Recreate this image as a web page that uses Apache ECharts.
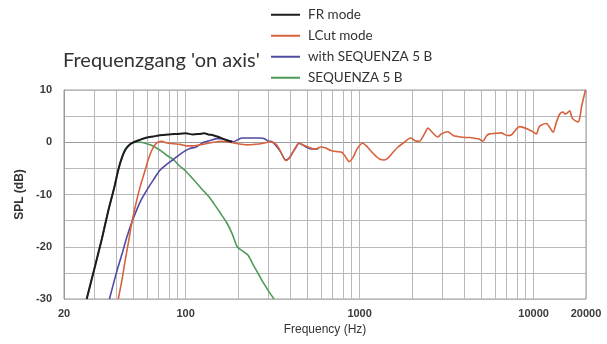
<!DOCTYPE html>
<html>
<head>
<meta charset="utf-8">
<script src="https://cdn.jsdelivr.net/npm/echarts@6/dist/echarts.min.js"></script>
<style>
  html, body { margin: 0; padding: 0; background: #ffffff; }
  #chart { width: 607px; height: 344px; }
</style>
</head>
<body>
<div id="chart"></div>
<script>
// ---- Data (frequency Hz, SPL dB) ----
const titleText = "Frequenzgang 'on axis'";
const seriesNames = ['FR mode', 'LCut mode', 'with SEQUENZA 5 B', 'SEQUENZA 5 B'];
const seriesColors = ['#1c1c1c', '#d8623e', '#4f4aa3', '#4e9a58'];

const frMode = [
  [27,-30],[30,-24],[33,-18.5],[36,-13],[39,-8.5],[41,-5.3],[43,-3],[45,-1.5],[48,-0.4],
  [51,0.1],[55,0.5],[60,0.9],[65,1.1],[70,1.3],[75,1.4],[80,1.5],[90,1.6],[100,1.7],
  [110,1.5],[120,1.6],[128,1.7],[135,1.5],[145,1.3],[155,1.0],[165,0.6],[175,0.3],[185,0.1]
];

const lcutMode = [
  [41,-30],[43,-26.5],[45,-22.5],[47,-19],[49.2,-15.2],[52,-11.5],[55,-8.3],[58.6,-5.3],
  [61,-3.3],[64,-1.5],[67,-0.4],[70,0.1],[73,0.2],[77,-0.1],[85,-0.3],[93,-0.4],[102,-0.7],
  [111,-0.7],[125,-0.4],[140,-0.1],[160,0.2],[180,0],[200,-0.3],[226,-0.5],[250,-0.4],
  [270,-0.3],[308,0.1],[335,-0.6],[360,-2.5],[376,-3.5],[395,-3.0],[420,-1.5],[448,-0.2],
  [480,-0.6],[533,-1.2],[560,-1.3],[598,-0.9],[640,-1.1],[683,-1.6],[740,-1.8],[790,-1.9],
  [830,-2.8],[870,-3.7],[920,-2.8],[970,-1.2],[1040,-0.2],[1100,-0.8],[1200,-2.2],[1300,-3.2],
  [1385,-3.4],[1460,-3.0],[1548,-2.0],[1650,-1.0],[1806,0.0],[1900,0.6],[1974,0.8],[2080,0.3],
  [2205,0.2],[2350,1.5],[2470,2.7],[2600,2.0],[2813,1.0],[2950,1.6],[3214,2.0],[3450,1.3],
  [3667,1.1],[4000,0.9],[4300,0.9],[4571,0.75],[4850,0.6],[5107,0.2],[5350,1.2],[5579,1.6],
  [6000,1.7],[6517,1.8],[7000,1.3],[7448,1.4],[7900,2.4],[8306,3.0],[8800,2.8],[9283,2.5],
  [9800,2.1],[10370,1.6],[10700,2.8],[11080,3.3],[11840,3.6],[12400,2.8],[12940,1.9],
  [13500,3.8],[14130,5.4],[14780,5.8],[15100,5.4],[15440,5.5],[16140,6.0],[16500,5.0],
  [16880,4.4],[18040,3.9],[18500,5.0],[18850,6.8],[19870,10]
];

const withSequenza = [
  [36.5,-30],[40,-25],[43,-21.5],[46,-18.1],[49.2,-15.2],[53,-12.5],[56,-10.8],[60,-9.1],
  [65,-7.3],[71,-5.4],[78,-4.2],[85,-3.3],[92,-2.4],[100,-1.6],[106,-1.2],[115,-0.9],
  [127,0],[140,0.4],[151,0.7],[160,0.7],[175,0.4],[189,0.1],[200,0.5],[211,0.8],[240,0.8],
  [269,0.8],[282,0.7],[300,0.2],[314,0.1],[330,-0.6],[351,-1.8],[376,-3.4],[395,-3.0],
  [410,-2.1],[430,-1.0],[448,-0.2],[470,-0.5],[492,-0.9],[533,-1.3],[560,-1.3],[580,-1.2]
];

const sequenza = [
  [27,-30],[30,-24],[33,-18.5],[36,-13],[39,-8.5],[41,-5.3],[43,-3],[45,-1.3],[48,-0.3],
  [51,0],[55,0],[60,-0.3],[65,-0.7],[72,-1.6],[78,-2.5],[85,-3.3],[92,-4.5],[100,-5.5],
  [110,-7],[122,-8.7],[135,-10.3],[145,-11.7],[158,-13.5],[173,-15.5],[185,-17.5],
  [198,-20],[212,-20.8],[228,-21.6],[245,-23.5],[260,-25],[275,-26.5],[300,-28.5],[322,-30]
];

const yTickLabels = [10, 0, -10, -20, -30];
const xTickLabels = [20, 100, 1000, 10000, 20000];
const minorGridFreqs = [30,40,50,60,70,80,90,200,300,400,500,600,700,800,900,
                        2000,3000,4000,5000,6000,7000,8000,9000];

// ---- Chart ----
const chart = echarts.init(document.getElementById('chart'), null, { renderer: 'canvas' });
const gridColor = '#b8b8b8';
const dataSets = [frMode, lcutMode, withSequenza, sequenza];
const widths = [2, 1.6, 1.6, 1.6];

const series = dataSets.map((d, i) => ({
  name: seriesNames[i],
  type: 'line',
  data: d,
  showSymbol: false,
  symbol: 'none',
  smooth: 0.25,
  z: 10 - i,
  lineStyle: { color: seriesColors[i], width: widths[i] },
  itemStyle: { color: seriesColors[i] }
}));

series.push({
  name: 'grid',
  type: 'line',
  data: [],
  silent: true,
  z: 1,
  markLine: {
    silent: true,
    symbol: 'none',
    label: { show: false },
    lineStyle: { color: gridColor, type: 'solid', width: 1 },
    data: minorGridFreqs.map(f => ({ xAxis: f }))
  }
});

chart.setOption({
  animation: false,
  backgroundColor: '#ffffff',
  title: {
    text: titleText,
    left: 58,
    top: 46,
    textStyle: { fontFamily: 'Lato', fontSize: 20, fontWeight: 'normal', color: '#333333' }
  },
  legend: {
    data: seriesNames,
    orient: 'vertical',
    left: 266,
    top: 2,
    icon: 'rect',
    itemWidth: 29,
    itemHeight: 2,
    itemGap: 5.5,
    textStyle: { fontFamily: 'Lato', fontSize: 13.5, color: '#333333', lineHeight: 15.5, padding: [0, 0, 0, 3] }
  },
  grid: {
    left: 64, right: 21, top: 90, bottom: 45,
    show: true, borderColor: '#9a9a9a', borderWidth: 1
  },
  xAxis: {
    type: 'log',
    logBase: 10,
    min: 20,
    max: 20000,
    name: 'Frequency (Hz)',
    nameLocation: 'middle',
    nameGap: 22,
    nameTextStyle: { fontFamily: 'Liberation Sans', fontSize: 12, color: '#333333' },
    axisLine: { show: true, lineStyle: { color: '#9a9a9a' } },
    axisTick: { show: false },
    splitLine: { show: true, lineStyle: { color: gridColor, width: 1 } },
    minorTick: { show: false },
    axisLabel: {
      margin: 9,
      fontFamily: 'Liberation Sans',
      fontSize: 11,
      fontWeight: 'bold',
      color: '#3a3a3a',
      showMinLabel: true,
      showMaxLabel: true,
      formatter: v => {
        const r = Math.round(v);
        return xTickLabels.indexOf(r) >= 0 ? String(r) : '';
      }
    }
  },
  yAxis: {
    type: 'value',
    min: -30,
    max: 10,
    interval: 5,
    name: 'SPL (dB)',
    nameLocation: 'middle',
    nameGap: 36,
    nameTextStyle: { fontFamily: 'Liberation Sans', fontSize: 12, fontWeight: 'bold', color: '#333333' },
    axisLine: { show: true, lineStyle: { color: '#9a9a9a' } },
    axisTick: { show: false },
    splitLine: { show: true, lineStyle: { color: gridColor, width: 1 } },
    axisLabel: {
      margin: 12,
      fontFamily: 'Liberation Sans',
      fontSize: 11,
      fontWeight: 'bold',
      color: '#3a3a3a',
      formatter: v => (yTickLabels.indexOf(v) >= 0 ? String(v) : '')
    }
  },
  series: series
});
</script>
</body>
</html>
